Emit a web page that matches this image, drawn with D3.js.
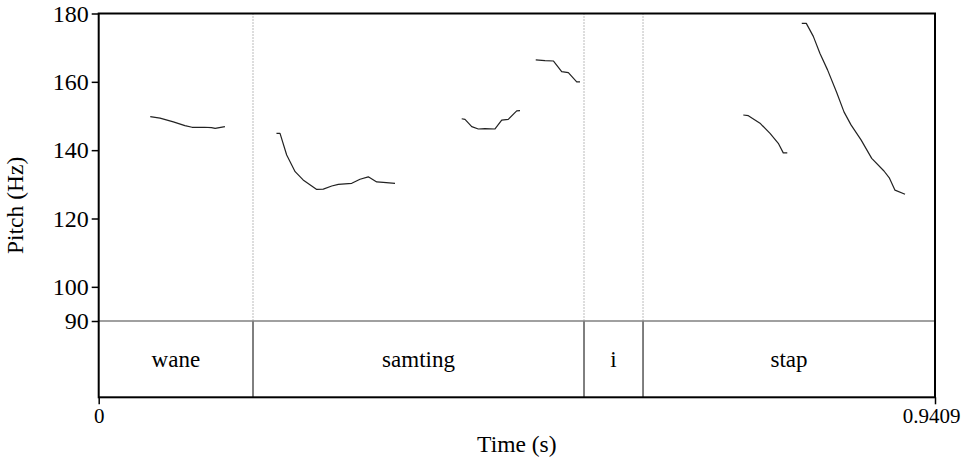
<!DOCTYPE html>
<html>
<head>
<meta charset="utf-8">
<script src="https://cdn.jsdelivr.net/npm/d3@7"></script>
<style>
  html, body { margin: 0; padding: 0; background: #fff; }
  svg { display: block; }
</style>
</head>
<body>
<svg id="chart" width="968" height="459"></svg>
<script>
// Pitch track (time in s, F0 in Hz), one array per voiced stretch
const contourWane = [
  [0.058, 149.8], [0.069, 149.4], [0.084, 148.3], [0.097, 147.2], [0.105, 146.7],
  [0.119, 146.7], [0.127, 146.6], [0.131, 146.4], [0.142, 146.9]
];
const contourSamting1 = [
  [0.200, 144.9], [0.204, 144.9], [0.2115, 138.6], [0.221, 133.7], [0.230, 131.3],
  [0.2453, 128.5], [0.2527, 128.6], [0.2622, 129.5], [0.2696, 130.0], [0.2847, 130.3],
  [0.294, 131.5], [0.3033, 132.2], [0.3128, 130.7], [0.3202, 130.6], [0.3334, 130.3]
];
const contourSamting2 = [
  [0.4084, 149.2], [0.4121, 149.0], [0.4197, 146.9], [0.4271, 146.2], [0.4346, 146.3],
  [0.4459, 146.2], [0.4534, 148.8], [0.4608, 149.0], [0.4703, 151.5], [0.4740, 151.6]
];
const contourSamting3 = [
  [0.4917, 166.4], [0.5021, 166.2], [0.5115, 166.1], [0.5209, 163.0], [0.5284, 162.7],
  [0.5378, 160.0], [0.5415, 160.0]
];
const contourStap1 = [
  [0.7252, 150.3], [0.7309, 150.1], [0.7440, 147.9], [0.7553, 144.9], [0.7646, 142.0],
  [0.7702, 139.2], [0.7747, 139.2]
];
const contourStap2 = [
  [0.7910, 177.1], [0.7961, 177.1], [0.8040, 173.3], [0.8115, 168.3], [0.8200, 163.5],
  [0.8303, 156.9], [0.8385, 151.2], [0.8464, 147.4], [0.8577, 143.0], [0.8697, 137.6],
  [0.8835, 133.9], [0.8897, 131.8], [0.8959, 128.3], [0.9072, 127.1]
];
const contours = [contourWane, contourSamting1, contourSamting2, contourSamting3, contourStap1, contourStap2];

// Word tier: interval labels and boundary times
const words = ["wane", "samting", "i", "stap"];
const boundaries = [0, 0.1736, 0.5460, 0.6124, 0.9409];

const pitchTicks = [90, 100, 120, 140, 160, 180];
const timeTicks = [0, 0.9409];

const FONT = '"Liberation Serif", "Times New Roman", serif';

const svg = d3.select("#chart");
const plotLeft = 98.7, plotRight = 935, plotTop = 13.5, tierTop = 321, plotBottom = 397.3;

const x = d3.scaleLinear().domain([0, 0.9409]).range([plotLeft, plotRight]);
const y = d3.scaleLinear().domain([90, 180]).range([tierTop, plotTop]);

// Dotted boundary guides across the pitch area
svg.append("g").selectAll("line")
  .data(boundaries.slice(1, -1))
  .join("line")
  .attr("x1", d => x(d)).attr("x2", d => x(d))
  .attr("y1", plotTop).attr("y2", tierTop)
  .attr("stroke", "#777").attr("stroke-width", 1)
  .attr("stroke-dasharray", "1,2");

// Tier boundaries (solid)
svg.append("g").selectAll("line")
  .data(boundaries.slice(1, -1))
  .join("line")
  .attr("x1", d => x(d)).attr("x2", d => x(d))
  .attr("y1", tierTop).attr("y2", plotBottom)
  .attr("stroke", "#000").attr("stroke-width", 1);

// Tier top line
svg.append("line")
  .attr("x1", plotLeft).attr("x2", plotRight)
  .attr("y1", tierTop).attr("y2", tierTop)
  .attr("stroke", "#808080").attr("stroke-width", 1.4);

// Word labels
svg.append("g").selectAll("text")
  .data(words)
  .join("text")
  .attr("x", (d, i) => (x(boundaries[i]) + x(boundaries[i + 1])) / 2)
  .attr("y", (tierTop + plotBottom) / 2)
  .attr("dy", "0.35em")
  .attr("text-anchor", "middle")
  .style("font-family", FONT).style("font-size", "23px")
  .text(d => d);

// Pitch contours
const line = d3.line().x(d => x(d[0])).y(d => y(d[1]));
svg.append("g").selectAll("path")
  .data(contours)
  .join("path")
  .attr("d", line)
  .attr("fill", "none")
  .attr("stroke", "#222")
  .attr("stroke-width", 1.2)
  .attr("stroke-linejoin", "round");

// Frame
svg.append("rect")
  .attr("x", plotLeft).attr("y", plotTop)
  .attr("width", plotRight - plotLeft).attr("height", plotBottom - plotTop)
  .attr("fill", "none").attr("stroke", "#000").attr("stroke-width", 2);

// Left axis
const yAxis = d3.axisLeft(y).tickValues(pitchTicks).tickSize(7).tickPadding(3).tickFormat(d3.format("d"));
const gy = svg.append("g").attr("transform", `translate(${plotLeft},0)`).call(yAxis);
gy.select(".domain").remove();
gy.selectAll(".tick line").attr("stroke", "#000").attr("stroke-width", 1.5);
gy.selectAll(".tick text").style("font-family", FONT).style("font-size", "24px").attr("fill", "#000");

// Bottom axis
const xAxis = d3.axisBottom(x).tickValues(timeTicks).tickSize(7).tickPadding(4)
  .tickFormat(d => d === 0 ? "0" : String(d));
const gx = svg.append("g").attr("transform", `translate(0,${plotBottom})`).call(xAxis);
gx.select(".domain").remove();
gx.selectAll(".tick line").attr("stroke", "#000").attr("stroke-width", 1.5);
gx.selectAll(".tick text").style("font-family", FONT).style("font-size", "21px").attr("fill", "#000");
gx.selectAll(".tick text").filter(d => d > 0).attr("dx", "-4");

// Axis titles
svg.append("text")
  .attr("x", (plotLeft + plotRight) / 2).attr("y", 452)
  .attr("text-anchor", "middle")
  .style("font-family", FONT).style("font-size", "23.5px")
  .text("Time (s)");
svg.append("text")
  .attr("transform", `translate(23,${(plotTop + plotBottom) / 2}) rotate(-90)`)
  .attr("text-anchor", "middle")
  .style("font-family", FONT).style("font-size", "23.5px")
  .text("Pitch (Hz)");
</script>
</body>
</html>
